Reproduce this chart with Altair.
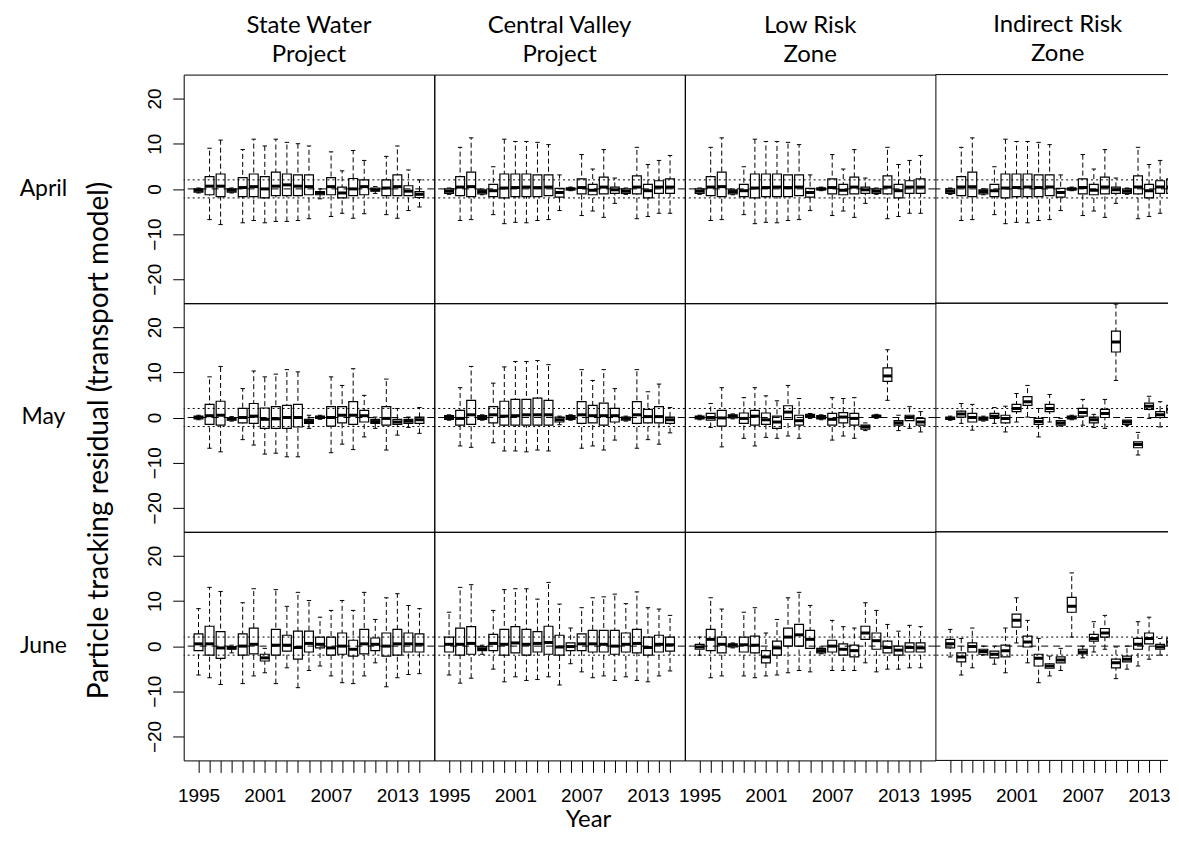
import altair as alt
import pandas as pd

YEARS = list(range(1995, 2016))
MONTHS = ["April", "May", "June"]
HEADERS = [["State Water", "Project"], ["Central Valley", "Project"],
           ["Low Risk", "Zone"], ["Indirect Risk", "Zone"]]
Y_TICKS = [-20, -10, 0, 10, 20]
X_LABELLED = [1995, 2001, 2007, 2013]
BAND_LINES = [-2, 2]
ZERO_LINE = [0]
Y_TITLE = "Particle tracking residual (transport model)"
X_TITLE = "Year"

# (lower whisker, Q1, median, Q3, upper whisker) for each year 1995..2015
SWP_APR = [(-0.9, -0.7, -0.3, 0.0, 0.2), (-6.8, -1.3, 0.6, 2.7, 9.0), (-7.9, -1.7, 0.6, 3.3, 10.8),
           (-0.9, -0.7, -0.3, 0.0, 0.2), (-7.5, -1.7, 0.3, 2.5, 8.7), (-7.0, -1.7, 0.5, 3.3, 11.0),
           (-7.5, -2.0, 0.0, 2.7, 9.5), (-7.2, -1.5, 0.6, 3.7, 11.0), (-7.2, -1.5, 0.9, 3.3, 10.3),
           (-7.0, -1.5, 0.6, 3.1, 10.0), (-6.6, -1.3, 0.5, 3.1, 9.5), (-2.2, -1.3, -0.9, -0.6, 0.0),
           (-6.1, -1.3, 0.5, 2.5, 8.2), (-5.4, -2.0, -0.9, 0.4, 4.0), (-6.5, -1.5, 0.0, 2.3, 8.5),
           (-5.5, -1.3, 0.5, 2.0, 6.3), (-1.0, -0.5, -0.2, 0.2, 0.5), (-5.7, -1.5, 0.2, 2.0, 7.2),
           (-6.5, -1.5, 0.5, 3.1, 9.5), (-4.8, -1.5, -0.5, 0.7, 4.2), (-4.0, -1.9, -1.2, -0.6, 2.0)]
SWP_MAY = [(-0.5, -0.3, 0.0, 0.3, 0.5), (-6.8, -1.5, 0.4, 2.9, 9.0), (-7.6, -1.7, 0.5, 3.6, 11.3),
           (-0.8, -0.6, -0.3, 0.0, 0.2), (-4.9, -1.2, 0.0, 2.0, 6.4), (-6.1, -1.3, 0.3, 3.1, 10.3),
           (-8.1, -2.4, -0.4, 2.1, 9.0), (-7.9, -2.4, -0.3, 2.4, 9.6), (-8.7, -2.4, 0.0, 2.7, 10.6),
           (-8.7, -2.1, 0.0, 2.9, 10.1), (-2.4, -1.3, -0.9, -0.4, 0.5), (-0.4, -0.2, 0.0, 0.3, 0.5),
           (-7.8, -1.9, 0.0, 2.4, 9.0), (-5.9, -1.2, 0.5, 2.4, 7.1), (-7.1, -1.5, 0.5, 3.5, 10.8),
           (-4.3, -1.0, 0.4, 1.6, 4.9), (-2.4, -1.3, -0.9, -0.4, 0.1), (-7.2, -1.7, -0.2, 2.4, 8.5),
           (-3.9, -1.5, -1.0, -0.4, 2.0), (-2.2, -1.3, -0.8, -0.4, 0.1), (-3.5, -1.3, -0.5, 0.1, 2.2)]
SWP_JUN = [(-6.4, -1.0, 0.5, 2.7, 8.3), (-7.0, -2.0, 0.5, 4.4, 13.0), (-8.5, -2.7, -0.4, 3.2, 12.1),
           (-1.5, -0.7, -0.4, -0.1, 0.2), (-8.3, -2.0, 0.0, 2.7, 9.6), (-6.6, -1.7, 0.4, 4.0, 12.7),
           (-5.9, -3.3, -2.6, -1.8, -0.5), (-8.3, -2.0, 0.2, 3.7, 12.5), (-4.8, -1.1, 0.2, 2.4, 8.8),
           (-9.2, -2.9, -0.3, 3.3, 11.9), (-5.4, -1.3, 0.6, 3.3, 10.1), (-4.4, -0.4, 0.4, 2.0, 6.4),
           (-6.6, -2.0, -0.4, 2.0, 7.9), (-8.1, -1.8, 0.0, 2.9, 10.1), (-8.3, -2.2, -0.7, 1.3, 7.9),
           (-6.6, -1.7, 0.5, 3.7, 11.9), (-3.7, -1.0, 0.4, 1.8, 5.9), (-9.0, -2.2, 0.0, 2.9, 10.7),
           (-7.0, -2.0, 0.5, 3.7, 11.6), (-6.3, -1.3, 0.5, 2.9, 9.0), (-6.1, -1.3, 0.4, 2.7, 8.3)]
CVP_APR = [(-1.2, -1.0, -0.5, 0.0, 0.2), (-7.0, -1.5, 0.4, 2.7, 9.2), (-6.8, -1.7, 0.5, 3.7, 11.3),
           (-1.3, -1.1, -0.6, -0.2, 0.0), (-5.7, -1.7, -0.4, 1.0, 4.9), (-7.7, -2.0, 0.2, 3.3, 11.0),
           (-7.4, -1.7, 0.3, 3.3, 10.5), (-7.5, -1.7, 0.4, 3.3, 10.5), (-7.0, -1.7, 0.3, 3.1, 10.3),
           (-6.8, -1.5, 0.4, 3.1, 9.8), (-4.8, -1.8, -0.8, 0.1, 3.1), (-0.4, -0.2, 0.0, 0.2, 0.4),
           (-5.9, -1.1, 0.3, 2.2, 7.6), (-4.9, -1.3, -0.3, 1.0, 4.4), (-6.3, -1.1, 0.4, 2.6, 8.7),
           (-3.2, -1.0, -0.2, 0.4, 2.4), (-1.2, -1.0, -0.5, 0.0, 0.2), (-6.6, -1.1, 0.4, 2.9, 9.2),
           (-6.1, -2.0, -0.4, 1.0, 5.4), (-5.4, -1.0, 0.4, 1.8, 6.3), (-5.4, -1.0, 0.4, 2.2, 7.4)]
CVP_MAY = [(-0.6, -0.4, 0.0, 0.4, 0.6), (-6.3, -1.7, -0.2, 1.6, 6.6), (-6.6, -1.5, 0.6, 3.8, 11.3),
           (-0.6, -0.4, 0.0, 0.4, 0.6), (-5.6, -1.2, 0.6, 2.4, 7.6), (-7.4, -1.7, 0.3, 3.6, 11.2),
           (-7.4, -1.7, 0.4, 4.0, 12.4), (-7.6, -1.7, 0.6, 4.0, 12.4), (-7.2, -1.7, 0.6, 4.3, 12.6),
           (-7.4, -1.7, 0.6, 3.8, 11.7), (-1.6, -1.0, -0.5, 0.1, 0.3), (-0.6, -0.4, 0.0, 0.4, 0.6),
           (-6.8, -1.3, 0.6, 3.5, 10.6), (-6.3, -1.2, 0.4, 2.7, 8.2), (-7.2, -1.7, 0.4, 3.2, 10.6),
           (-5.0, -1.0, 0.4, 2.0, 6.4), (-0.8, -0.6, -0.2, 0.1, 0.3), (-6.8, -1.3, 0.6, 3.5, 10.6),
           (-4.9, -1.2, 0.2, 1.8, 5.7), (-5.9, -1.2, 0.2, 2.4, 7.4), (-3.4, -1.3, -0.5, 0.1, 2.2)]
CVP_JUN = [(-6.4, -1.3, 0.4, 2.0, 7.5), (-8.2, -2.0, 0.4, 4.0, 13.0), (-7.1, -1.8, 0.6, 4.3, 13.6),
           (-1.8, -1.0, -0.6, -0.1, 0.2), (-5.1, -1.0, 0.6, 2.6, 7.9), (-7.9, -2.0, 0.4, 3.7, 12.5),
           (-6.8, -1.5, 0.7, 4.3, 12.7), (-7.6, -2.0, 0.4, 3.7, 12.7), (-7.4, -1.3, 0.6, 3.2, 10.4),
           (-6.8, -1.8, 0.8, 4.4, 14.1), (-8.6, -2.0, -0.2, 2.4, 9.3), (-3.9, -1.0, -0.1, 0.7, 4.0),
           (-5.7, -1.0, 0.5, 2.7, 8.5), (-7.0, -1.3, 0.5, 3.5, 10.7), (-6.6, -1.3, 0.4, 3.5, 10.9),
           (-7.6, -1.8, 0.0, 3.5, 11.5), (-6.8, -1.3, 0.4, 2.9, 9.4), (-7.6, -1.5, 0.6, 3.7, 12.0),
           (-7.9, -2.0, -0.3, 2.0, 8.5), (-6.6, -1.3, 0.4, 2.4, 8.2), (-5.5, -1.1, 0.3, 2.0, 6.8)]
# April panels of the two risk zones read identical to the Central Valley April panel
LOW_APR = [(-1.2, -1.0, -0.5, 0.0, 0.2), (-7.0, -1.5, 0.4, 2.7, 9.2), (-6.8, -1.7, 0.5, 3.7, 11.3),
           (-1.3, -1.1, -0.6, -0.2, 0.0), (-5.7, -1.7, -0.4, 1.0, 4.9), (-7.7, -2.0, 0.2, 3.3, 11.0),
           (-7.4, -1.7, 0.3, 3.3, 10.5), (-7.5, -1.7, 0.4, 3.3, 10.5), (-7.0, -1.7, 0.3, 3.1, 10.3),
           (-6.8, -1.5, 0.4, 3.1, 9.8), (-4.8, -1.8, -0.8, 0.1, 3.1), (-0.4, -0.2, 0.0, 0.2, 0.4),
           (-5.9, -1.1, 0.3, 2.2, 7.6), (-4.9, -1.3, -0.3, 1.0, 4.4), (-6.3, -1.1, 0.4, 2.6, 8.7),
           (-3.2, -1.0, -0.2, 0.4, 2.4), (-1.2, -1.0, -0.5, 0.0, 0.2), (-6.6, -1.1, 0.4, 2.9, 9.2),
           (-6.1, -2.0, -0.4, 1.0, 5.4), (-5.4, -1.0, 0.4, 1.8, 6.3), (-5.4, -1.0, 0.4, 2.2, 7.4)]
LOW_MAY = [(-0.5, -0.3, 0.0, 0.3, 0.5), (-2.2, -0.6, 0.0, 0.9, 3.1), (-6.5, -1.9, -0.1, 1.6, 6.6),
           (-0.3, -0.1, 0.3, 0.6, 0.8), (-4.6, -1.3, -0.2, 1.0, 4.4), (-6.3, -1.7, 0.3, 1.6, 6.6),
           (-4.4, -1.5, -0.5, 1.0, 4.8), (-4.6, -2.4, -1.0, 0.3, 3.7), (-4.1, -0.4, 1.2, 2.6, 7.1),
           (-4.6, -1.7, -0.7, 0.5, 4.2), (-0.2, 0.0, 0.4, 0.7, 0.9), (-0.5, -0.3, 0.0, 0.4, 0.6),
           (-5.0, -1.7, -0.4, 0.9, 4.4), (-4.1, -1.2, 0.1, 1.1, 4.2), (-4.6, -1.7, -0.2, 0.9, 4.4),
           (-2.9, -2.6, -2.1, -1.7, -1.2), (-0.2, 0.0, 0.3, 0.5, 0.7), (3.8, 8.0, 9.2, 11.0, 15.0),
           (-2.9, -1.7, -1.2, -0.7, 0.5), (-2.4, -0.7, 0.0, 0.5, 2.4), (-3.2, -1.7, -1.0, -0.2, 1.3)]
LOW_JUN = [(-2.0, -0.7, -0.2, 0.4, 2.0), (-7.0, -1.0, 1.5, 3.7, 10.7), (-6.6, -1.5, 0.4, 2.0, 8.2),
           (-0.4, -0.2, 0.2, 0.5, 0.7), (-6.6, -1.3, 0.3, 2.0, 7.5), (-7.0, -1.5, 0.2, 2.2, 8.5),
           (-6.6, -3.7, -2.4, -1.0, 2.9), (-6.4, -2.0, -0.4, 1.1, 5.9), (-5.9, 0.0, 2.0, 4.0, 10.7),
           (-5.4, 0.0, 2.5, 4.8, 11.9), (-5.7, -0.5, 1.5, 3.5, 9.0), (-1.7, -1.5, -1.0, -0.5, -0.2),
           (-5.4, -1.3, 0.0, 1.3, 5.7), (-5.4, -2.0, -0.7, 0.5, 4.3), (-5.4, -2.4, -1.0, 0.2, 4.0),
           (-3.7, 1.5, 2.9, 4.4, 9.6), (-5.7, -0.7, 1.2, 2.9, 7.9), (-5.1, -1.5, -0.3, 1.1, 4.8),
           (-5.1, -2.0, -0.9, 0.0, 3.3), (-4.8, -1.3, -0.3, 0.7, 4.6), (-4.8, -1.3, -0.4, 0.7, 4.3)]
IND_APR = [(-1.2, -1.0, -0.5, 0.0, 0.2), (-7.0, -1.5, 0.4, 2.7, 9.2), (-6.8, -1.7, 0.5, 3.7, 11.3),
           (-1.3, -1.1, -0.6, -0.2, 0.0), (-5.7, -1.7, -0.4, 1.0, 4.9), (-7.7, -2.0, 0.2, 3.3, 11.0),
           (-7.4, -1.7, 0.3, 3.3, 10.5), (-7.5, -1.7, 0.4, 3.3, 10.5), (-7.0, -1.7, 0.3, 3.1, 10.3),
           (-6.8, -1.5, 0.4, 3.1, 9.8), (-4.8, -1.8, -0.8, 0.1, 3.1), (-0.4, -0.2, 0.0, 0.2, 0.4),
           (-5.9, -1.1, 0.3, 2.2, 7.6), (-4.9, -1.3, -0.3, 1.0, 4.4), (-6.3, -1.1, 0.4, 2.6, 8.7),
           (-3.2, -1.0, -0.2, 0.4, 2.4), (-1.2, -1.0, -0.5, 0.0, 0.2), (-6.6, -1.1, 0.4, 2.9, 9.2),
           (-6.1, -2.0, -0.4, 1.0, 5.4), (-5.4, -1.0, 0.4, 1.8, 6.3), (-5.4, -1.0, 0.4, 2.2, 7.4)]
IND_MAY = [(-0.6, -0.4, -0.2, 0.1, 0.3), (-1.3, 0.1, 0.8, 1.4, 3.1), (-2.8, -1.0, 0.0, 0.9, 2.9),
           (-0.8, -0.6, -0.2, 0.1, 0.3), (-1.3, -0.2, 0.3, 0.9, 2.2), (-3.2, -1.2, -0.2, 0.5, 2.5),
           (-1.0, 1.3, 2.0, 2.9, 5.3), (0.1, 2.7, 3.5, 4.6, 7.1), (-4.3, -1.5, -0.9, -0.2, 2.0),
           (-1.0, 1.3, 2.0, 2.9, 5.1), (-1.9, -1.7, -1.2, -0.7, -0.2), (-0.5, -0.3, 0.0, 0.3, 0.5),
           (-1.7, 0.3, 1.1, 2.0, 4.0), (-2.2, -1.2, -0.5, 0.1, 0.7), (-2.4, 0.0, 0.9, 1.8, 4.0),
           (8.2, 14.5, 16.7, 19.1, 25.1), (-1.8, -1.5, -1.0, -0.6, 0.0), (-8.3, -6.7, -6.0, -5.4, -3.3),
           (-0.2, 1.8, 2.5, 3.2, 4.7), (-2.1, 0.0, 0.6, 1.3, 3.5), (-1.3, 1.0, 1.8, 2.7, 4.9)]
IND_JUN = [(-2.4, -0.4, 0.5, 1.5, 3.7), (-6.4, -3.5, -2.4, -1.5, 1.7), (-4.8, -1.3, -0.1, 0.7, 4.0),
           (-2.0, -1.8, -1.2, -0.7, 0.0), (-4.0, -2.6, -1.8, -1.1, 0.0), (-5.9, -2.4, -1.0, 0.2, 4.0),
           (0.7, 4.2, 5.7, 7.1, 10.7), (-3.7, -0.2, 0.9, 2.2, 5.7), (-8.1, -4.4, -2.7, -1.8, 1.7),
           (-6.6, -4.9, -4.4, -3.9, -2.2), (-5.4, -3.7, -3.1, -2.4, -0.5), (2.0, 7.5, 8.8, 10.8, 16.2),
           (-2.6, -1.7, -1.3, -0.7, 0.0), (-1.3, 1.1, 1.7, 2.6, 5.4), (-0.7, 2.0, 2.9, 3.9, 6.8),
           (-7.2, -4.8, -3.7, -2.9, -0.2), (-5.1, -3.5, -2.9, -2.2, 0.0), (-4.4, -0.7, 0.4, 1.7, 5.4),
           (-2.9, 0.5, 1.7, 2.9, 6.4), (-2.0, -0.7, -0.2, 0.4, 1.7), (-1.8, 0.2, 0.9, 1.7, 3.3)]

GRID = [[SWP_APR, CVP_APR, LOW_APR, IND_APR],
        [SWP_MAY, CVP_MAY, LOW_MAY, IND_MAY],
        [SWP_JUN, CVP_JUN, LOW_JUN, IND_JUN]]

TEXT_FONT = "Lato"
NUM_FONT = "Liberation Sans"
W, W_LAST, H, LABEL_W = 251, 233, 229, 175
X0, X1 = 1993.66, 2016.34
PPU = W / (X1 - X0)
Y_DOM = [-25.3, 25.3]

label_expr = ("indexof([" + ",".join(str(v) for v in X_LABELLED) +
              "], datum.value) >= 0 ? toString(datum.value) : ''")


def panel(stats, r, c):
    df = pd.DataFrame(stats, columns=["lo", "q1", "med", "q3", "hi"])
    df["year"] = YEARS
    last = c == 3
    width = W_LAST if last else W
    xs = alt.Scale(domain=[X0, X0 + width / PPU], nice=False, zero=False)
    ys = alt.Scale(domain=Y_DOM, nice=False, zero=False)

    if r == 2:
        ax_kw = dict(values=YEARS, labelExpr=label_expr, tickSize=12, labelPadding=14,
                     labelFontSize=19, labelFont=NUM_FONT, labelColor="black",
                     tickColor="black", domain=False, grid=False, labelOverlap=False,
                     labelFlush=False)
        if c == 1:
            xaxis = alt.Axis(title=X_TITLE, titleX=154, titleY=47, titleFont=TEXT_FONT,
                             titleFontSize=24, titleFontWeight="normal", titleColor="black",
                             titleBaseline="top", **ax_kw)
        else:
            xaxis = alt.Axis(title=None, **ax_kw)
    else:
        xaxis = None

    if c == 0:
        ay_kw = dict(values=Y_TICKS, labelAngle=-90, labelAlign="center",
                     labelBaseline="alphabetic", tickSize=11, labelPadding=12,
                     labelFontSize=19, labelFont=NUM_FONT, labelColor="black",
                     tickColor="black", domain=False, grid=False)
        if r == 1:
            yaxis = alt.Axis(title=Y_TITLE, titleX=-70, titleY=137, titleFont=TEXT_FONT,
                             titleFontSize=28, titleFontWeight="normal", titleColor="black",
                             **ay_kw)
        else:
            yaxis = alt.Axis(title=None, **ay_kw)
    else:
        yaxis = None

    def X(f):
        return alt.X(f, type="quantitative", scale=xs, axis=xaxis)

    def Y(f):
        return alt.Y(f, type="quantitative", scale=ys, axis=yaxis)

    base = alt.Chart(df).transform_calculate(
        xl="datum.year - 0.4", xr="datum.year + 0.4",
        cl="datum.year - 0.2", cr="datum.year + 0.2")

    whisk = base.mark_rule(color="black", strokeWidth=1, strokeDash=[5, 3], clip=last).encode(
        x=X("year"), y=Y("lo"), y2="hi")
    cap_lo = base.mark_rule(color="black", strokeWidth=1, clip=last).encode(
        x=X("cl"), x2="cr", y=Y("lo"))
    cap_hi = base.mark_rule(color="black", strokeWidth=1, clip=last).encode(
        x=X("cl"), x2="cr", y=Y("hi"))
    box = base.mark_rect(fill="white", stroke="black", strokeWidth=1.2, clip=last).encode(
        x=X("xl"), x2="xr", y=Y("q1"), y2="q3")
    med = base.mark_rule(color="black", strokeWidth=3, clip=last).encode(
        x=X("xl"), x2="xr", y=Y("med"))
    band = alt.Chart(pd.DataFrame({"v": BAND_LINES})).mark_rule(
        color="black", strokeWidth=1, strokeDash=[2, 3]).encode(y=Y("v"))
    zero = alt.Chart(pd.DataFrame({"v": ZERO_LINE})).mark_rule(
        color="black", strokeWidth=1, strokeDash=[7, 5]).encode(y=Y("v"))

    layers = [whisk, cap_lo, cap_hi, box, med, band, zero]
    props = dict(width=width, height=H)
    if last:
        edge = pd.DataFrame({"e": [0]})
        layers.append(alt.Chart(edge).mark_rule(color="black", strokeWidth=1).encode(y=alt.value(0)))
        layers.append(alt.Chart(edge).mark_rule(color="black", strokeWidth=1).encode(y=alt.value(H)))
        props["view"] = alt.ViewBackground(stroke="transparent")
    if r == 0:
        props["title"] = alt.TitleParams(text=HEADERS[c], font=TEXT_FONT, fontSize=24,
                                         fontWeight="normal", color="black", lineHeight=29,
                                         offset=8, frame="group", anchor="middle",
                                         dx=6 if last else 0)
    return alt.layer(*layers).properties(**props)


def row_label(r):
    df = pd.DataFrame({"month": [MONTHS[r]]})
    return alt.Chart(df).mark_text(font=TEXT_FONT, fontSize=23, align="center",
                                   baseline="middle", color="black").encode(
        text="month:N", x=alt.value(34.5), y=alt.value(H / 2)
    ).properties(width=LABEL_W, height=H, view=alt.ViewBackground(stroke="transparent"))


charts = []
for r in range(3):
    charts.append(row_label(r))
    for c in range(4):
        charts.append(panel(GRID[r][c], r, c))

chart = alt.concat(*charts, columns=5, spacing=0, bounds="flush", align="each").properties(
    padding={"left": 0, "top": 4, "right": 0, "bottom": 0},
    background="white",
).configure_view(stroke="black", strokeWidth=1)

chart.save("out.html", embed_options={"renderer": "svg", "actions": False})
